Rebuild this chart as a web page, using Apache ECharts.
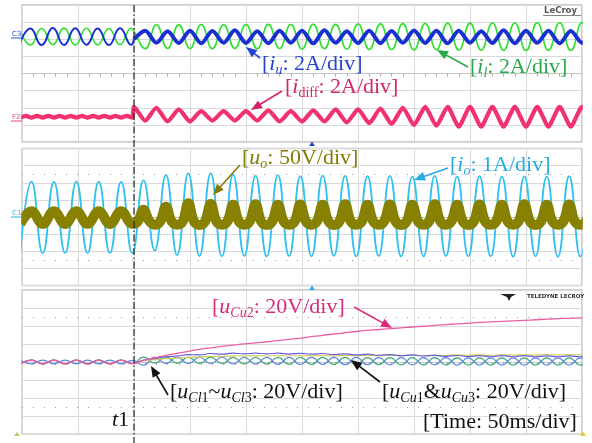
<!DOCTYPE html>
<html><head><meta charset="utf-8">
<script src="https://cdn.jsdelivr.net/npm/echarts@6/dist/echarts.min.js"></script>
<style>html,body{margin:0;padding:0;background:#fff}#c{width:592px;height:443px}</style>
</head><body><div id="c"></div>
<script>
// ---- data: time in ms (50 ms/div), t1 = 100 ms; amplitudes in screen divisions ----
const timeRange = [0, 500];
const t1 = 100;
const halfPeriod = 10; // ms between successive extremes (50 Hz)

// top panel: iu (blue), il (green), idiff (pink)
const iuPreStart = -2.5;
const iuPre = [1.68,2.63,1.66,2.65,1.67,2.64,1.68,2.63,1.66,2.64,1.68];
const iuPostStart = 100;
const iuPost = [2.0,
 2.5,1.8,2.46,1.78,2.5,1.76,2.48,1.8,2.52,1.78,
 2.47,1.77,2.5,1.8,2.49,1.76,2.52,1.79,2.47,1.78,
 2.5,1.77,2.48,1.8,2.51,1.78,2.49,1.76,2.5,1.8,
 2.47,1.78,2.52,1.77,2.49,1.79,2.5,1.76,2.48,1.8,
 2.5];
const ilPreStart = -2.5;
const ilPre = [2.64,1.67,2.63,1.68,2.65,1.66,2.64,1.67,2.63,1.68,2.64];
const ilPostStart = 100;
const ilPost = [2.45,
 1.45,2.85,1.47,2.84,1.46,2.86,1.45,2.85,1.47,2.86,
 1.44,2.87,1.46,2.86,1.43,2.88,1.45,2.87,1.42,2.89,
 1.41,2.9,1.4,2.91,1.38,2.92,1.39,2.93,1.37,2.94,
 1.36,2.95,1.35,2.95,1.34,2.96,1.35,2.96,1.34,2.97,
 1.34];
const idiffPreStart = -1.5, idiffPreStep = 5;
const idiffPre = [-2.58,-2.47,-2.58,-2.47,-2.58,-2.47,-2.58,-2.47,-2.58,-2.47,-2.58,
 -2.47,-2.58,-2.47,-2.58,-2.47,-2.58,-2.47,-2.58,-2.47,-2.58];
const idiffPostStart = 100;
const idiffPost = [-1.95,-2.75,-2.0,-2.8,-2.1,-2.8,-2.2,-2.75,-2.2,-2.75,
 -2.2,-2.75,-2.15,-2.8,-2.2,-2.8,-2.15,-2.8,-2.1,-2.85,
 -2.1,-2.9,-2.05,-2.95,-2.0,-3.0,-1.95,-3.05,-1.95,-3.1,
 -1.95,-3.1,-1.95,-3.1,-1.95,-3.1,-1.95,-3.1,-1.95,-3.1,
 -1.95,-3.1];

// middle panel: io (cyan), uo (olive)
const ioStart = -1.5;
const io = [-2.1,2.06,-2.12,2.05,-2.1,2.07,-2.11,2.06,-2.1,2.05,-2.12,
 2.14,-1.95,2.45,-2.22,2.55,-2.28,2.55,-2.3,2.47,-2.27,
 2.42,-2.3,2.45,-2.28,2.38,-2.3,2.42,-2.27,2.4,-2.3,
 2.38,-2.28,2.4,-2.3,2.36,-2.3,2.4,-2.28,2.36,-2.3,
 2.38,-2.3,2.36,-2.32,2.37,-2.3,2.36,-2.32,2.38,-2.3,
 2.36];
const uoPreStart = -1.5;
const uoPre = [-0.41,0.33,-0.4,0.34,-0.41,0.33,-0.4,0.33,-0.41,0.34,-0.4];
const uoPostStart = 103.5, uoPostStep = 5;
const uoPost = [
 -0.25,0.42,-0.22,-0.45, -0.25,0.6,-0.24,-0.45, -0.26,0.8,-0.25,-0.46, -0.25,0.76,-0.24,-0.45,
 -0.25,0.72,-0.24,-0.45, -0.24,0.74,-0.25,-0.46, -0.25,0.72,-0.24,-0.45, -0.25,0.73,-0.25,-0.45,
 -0.24,0.72,-0.24,-0.46, -0.25,0.74,-0.25,-0.45, -0.25,0.72,-0.24,-0.45, -0.24,0.73,-0.25,-0.46,
 -0.25,0.72,-0.24,-0.45, -0.25,0.74,-0.25,-0.45, -0.24,0.72,-0.24,-0.46, -0.25,0.73,-0.25,-0.45,
 -0.25,0.72,-0.24,-0.45, -0.24,0.74,-0.25,-0.46, -0.25,0.72,-0.24,-0.45, -0.25,0.73,-0.25,-0.45,
 -0.25,0.72];

// bottom panel: capacitor voltages
const capStart = -1.5;
const capPreA = [-0.1,0.11,-0.1,0.11,-0.1,0.11,-0.1,0.11,-0.1,0.11,-0.08];
const capPreB = [0.11,-0.1,0.11,-0.1,0.11,-0.1,0.11,-0.1,0.11,-0.1,0.1];
const uCu2Post = [0.1,0.23,0.38,0.49,0.6,0.71,0.79,0.87,0.94,1.01,
 1.07,1.13,1.19,1.26,1.33,1.41,1.49,1.56,1.63,1.7,
 1.76,1.81,1.86,1.9,1.95,1.99,2.04,2.08,2.12,2.16,
 2.2,2.23,2.26,2.29,2.32,2.35,2.38,2.41,2.43,2.45,
 2.47];
const uCu3Post = [0.08,0.14,0.2,0.22,0.27,0.28,0.32,0.31,0.35,0.33,
 0.36,0.34,0.37,0.34,0.37,0.35,0.37,0.35,0.38,0.36,
 0.38,0.36,0.38,0.36,0.39,0.37,0.39,0.37,0.4,0.38,
 0.4,0.38,0.41,0.39,0.41,0.39,0.42,0.4,0.42,0.4,
 0.42];
const uCu1Post = [0.12,0.2,0.3,0.34,0.42,0.4,0.48,0.44,0.5,0.46,
 0.5,0.46,0.5,0.45,0.49,0.44,0.48,0.42,0.46,0.4,
 0.44,0.38,0.42,0.36,0.4,0.34,0.38,0.32,0.37,0.31,
 0.36,0.3,0.36,0.3,0.36,0.3,0.35,0.3,0.35,0.3,
 0.35];
const uClAPost = [0.28,-0.06,0.29,-0.07,0.28,-0.08,0.28,-0.09,0.27,-0.1,
 0.27,-0.11,0.27,-0.12,0.26,-0.13,0.26,-0.13,0.26,-0.14,
 0.25,-0.14,0.25,-0.15,0.25,-0.15,0.25,-0.15,0.24,-0.16,
 0.24,-0.16,0.24,-0.16,0.24,-0.16,0.24,-0.16,0.24,-0.16,
 0.24];
const uClBPost = [-0.17,0.28,-0.08,0.29,-0.08,0.28,-0.09,0.28,-0.1,0.27,
 -0.11,0.27,-0.12,0.27,-0.13,0.26,-0.13,0.26,-0.14,0.26,
 -0.14,0.25,-0.15,0.25,-0.15,0.25,-0.15,0.25,-0.16,0.24,
 -0.16,0.24,-0.16,0.24,-0.16,0.24,-0.16,0.24,-0.16,0.24,
 -0.16];

// ---- build ----
function seg(start, step, vals){ return vals.map((v,i)=>[start+i*step, v]); }
const iuPreData = seg(iuPreStart, halfPeriod, iuPre).concat([[iuPostStart, iuPost[0]]]);
const iuPostData = seg(iuPostStart, halfPeriod, iuPost);
const ilData = seg(ilPreStart, halfPeriod, ilPre).concat(seg(ilPostStart, halfPeriod, ilPost));
const idiffData = seg(idiffPreStart, idiffPreStep, idiffPre).concat(seg(idiffPostStart, halfPeriod, idiffPost));
const ioData = seg(ioStart, halfPeriod, io);
const uoData = seg(uoPreStart, halfPeriod, uoPre).concat(seg(uoPostStart, uoPostStep, uoPost));
const capData = post => seg(capStart, halfPeriod, capPreA.concat(post));
const capDataB = post => seg(capStart, halfPeriod, capPreB.concat(post));

const chart = echarts.init(document.getElementById('c'), null, {renderer:'canvas'});
const gridDefs = [
  {left:22, top:5, width:560, height:137},
  {left:22, top:148.5, width:560, height:137},
  {left:22, top:290, width:560, height:144.3}
];
const grid = gridDefs.map(g => Object.assign({show:true, borderColor:'#bdbdbd', borderWidth:1.5, backgroundColor:'transparent'}, g));
const xAxis = gridDefs.map((g,i)=>({
  gridIndex:i, type:'value', min:timeRange[0], max:timeRange[1], interval:50,
  axisLabel:{show:false}, axisTick:{show:false},
  axisLine:{show:true, onZero:true, lineStyle:{color:'#c4c4c4', width:1}},
  minorTick:{show:true, splitNumber:5, length:3, lineStyle:{color:'#aaaaaa'}},
  splitLine:{show:true, lineStyle:{color:'#d9d9d9', width:1}}
}));
const yAxis = gridDefs.map((g,i)=>({
  gridIndex:i, type:'value', min:-4, max:4, interval:1,
  axisLabel:{show:false}, axisTick:{show:false}, axisLine:{show:false},
  splitLine:{show:true, lineStyle:{color:'#d9d9d9', width:1}}
}));
const dotted = {silent:true, symbol:'none', animation:false, label:{show:false},
  lineStyle:{type:[1,10], color:'#9a9a9a', width:1}, data:[{yAxis:2.5},{yAxis:-2.5}]};
function line(gi, data, color, width, smooth, extra){
  return Object.assign({type:'line', xAxisIndex:gi, yAxisIndex:gi, data, showSymbol:false, symbol:'none', clip:true,
    smooth, silent:true, animation:false, lineStyle:{color, width}, itemStyle:{color}}, extra||{});
}
const series = [
  line(0, ilData, '#2fe02f', 1.6, 0.5),
  line(0, iuPreData, '#1a2fd2', 2, 0.5),
  line(0, iuPostData, '#1a2fd2', 4, 0.3),
  line(0, idiffData, '#f2326e', 4.2, 0.2),
  line(1, ioData, '#2fbff0', 1.8, 0.5, {markLine:dotted}),
  line(1, uoData, '#878000', 10, 0.4),
  line(2, capData(uClAPost), '#3aa57a', 1.2, 0.5, {markLine:dotted}),
  line(2, capDataB(uClBPost), '#5b86e5', 1.2, 0.5),
  line(2, capData(uCu3Post), '#cfcf5a', 1.2, 0.5),
  line(2, capData(uCu1Post), '#6a5ce0', 1.2, 0.5),
  line(2, capData(uCu2Post), '#ea5fa2', 1.3, 0.5)
];
chart.setOption({animation:false, grid, xAxis, yAxis, series});

// ---- annotations ----
const F = 'Liberation Serif';
function rich(color){
  return {
    n:{fontFamily:F, fontSize:22, fill:color, color, lineHeight:26},
    i:{fontFamily:F, fontSize:22, fontStyle:'italic', fill:color, color, lineHeight:26},
    s:{fontFamily:F, fontSize:14, fontStyle:'italic', fill:color, color, lineHeight:14, verticalAlign:'bottom'},
    sn:{fontFamily:F, fontSize:14, fill:color, color, lineHeight:14, verticalAlign:'bottom'}
  };
}
function label(x, y, text, color){
  return {type:'text', x, y, z:50, style:{text, rich:rich(color), fill:color, align:'left', verticalAlign:'middle'}};
}
function arrow(x1,y1,x2,y2,color){
  const dx=x2-x1, dy=y2-y1, L=Math.hypot(dx,dy), ux=dx/L, uy=dy/L;
  const hl=11, hw=4.5, bx=x2-ux*hl, by=y2-uy*hl;
  return [
    {type:'line', z:50, shape:{x1, y1, x2:bx+ux*2, y2:by+uy*2}, style:{stroke:color, lineWidth:1.6}},
    {type:'polygon', z:50, shape:{points:[[x2,y2],[bx-uy*hw,by+ux*hw],[bx+uy*hw,by-ux*hw]]}, style:{fill:color}}
  ];
}
const tx = chart.convertToPixel({gridIndex:0}, [t1, 0])[0];
const cBlue='#2443d4', cGreen='#2aa84a', cCrim='#d2246a', cOlive='#857a00', cCyan='#27a9e1', cPink='#d82b7e', cBlack='#111';
const g = [
  // white masks outside the plot frames (thick lines overflow the clip slightly)
  {type:'rect', z:10, shape:{x:582.8, y:0, width:10, height:443}, style:{fill:'#fff'}},
  {type:'rect', z:10, shape:{x:0, y:0, width:21.2, height:443}, style:{fill:'#fff'}},
  {type:'line', z:60, shape:{x1:tx, y1:5, x2:tx, y2:443}, style:{stroke:'#222', lineWidth:1.2, lineDash:[7,2.5,1.5,2.5]}},
  label(262, 64, '{n|[}{i|i}{s|u}{n|: 2A/div]}', cBlue),
  ...arrow(260, 58, 246, 47, cBlue),
  label(470, 67, '{n|[}{i|i}{s|l}{n|: 2A/div]}', cGreen),
  ...arrow(468, 67, 437, 50, cGreen),
  label(285, 87, '{n|[}{i|i}{sn|diff}{n|: 2A/div]}', cCrim),
  ...arrow(282, 91, 251, 110, cCrim),
  label(242, 158.5, '{n|[}{i|u}{s|o}{n|: 50V/div]}', cOlive),
  ...arrow(240, 165, 213, 195, cOlive),
  label(450, 165, '{n|[}{i|i}{s|o}{n|: 1A/div]}', cCyan),
  ...arrow(448, 168, 414, 180, cCyan),
  label(212, 307, '{n|[}{i|u}{s|Cu}{sn|2}{n|: 20V/div]}', cPink),
  ...arrow(354, 307, 392, 328, cPink),
  label(170, 392, '{n|[}{i|u}{s|Cl}{sn|1}{n|~}{i|u}{s|Cl}{sn|3}{n|: 20V/div]}', cBlack),
  ...arrow(168, 395, 151, 366, cBlack),
  label(382, 392, '{n|[}{i|u}{s|Cu}{sn|1}{n|&}{i|u}{s|Cu}{sn|3}{n|: 20V/div]}', cBlack),
  ...arrow(380, 382, 351, 360, cBlack),
  label(423, 422, '{n|[Time: 50ms/div]}', cBlack),
  label(112, 420.5, '{i|t}{n|1}', cBlack),
  // scope decorations
  {type:'text', z:20, x:544, y:10.5, style:{text:'LeCroy', fontFamily:'DejaVu Sans', fontSize:8.5, fontWeight:'bold', fill:'#555', align:'left', verticalAlign:'middle'}},
  {type:'line', z:20, shape:{x1:543, y1:15.5, x2:581, y2:15.5}, style:{stroke:'#666', lineWidth:0.8}},
  {type:'polygon', z:20, shape:{points:[[500,294],[516,294],[511,297],[509,301],[507,297]]}, style:{fill:'#222'}},
  {type:'text', z:20, x:527, y:296.5, style:{text:'TELEDYNE LECROY', fontFamily:'DejaVu Sans', fontSize:5.5, fontWeight:'bold', fill:'#333', align:'left', verticalAlign:'middle'}},
  {type:'text', z:20, x:12, y:34, style:{text:'C3', fontFamily:'DejaVu Sans', fontSize:7, fill:'#3050d0', align:'left', verticalAlign:'middle'}},
  {type:'line', z:20, shape:{x1:11, y1:38, x2:22, y2:38}, style:{stroke:'#3050d0', lineWidth:1}},
  {type:'text', z:20, x:12, y:117, style:{text:'F2', fontFamily:'DejaVu Sans', fontSize:7, fill:'#f04080', align:'left', verticalAlign:'middle'}},
  {type:'line', z:20, shape:{x1:11, y1:121, x2:22, y2:121}, style:{stroke:'#f04080', lineWidth:1}},
  {type:'text', z:20, x:12, y:213, style:{text:'C1', fontFamily:'DejaVu Sans', fontSize:7, fill:'#30b0e0', align:'left', verticalAlign:'middle'}},
  {type:'line', z:20, shape:{x1:11, y1:217, x2:22, y2:217}, style:{stroke:'#30b0e0', lineWidth:1}},
  {type:'polygon', z:20, shape:{points:[[312,141.5],[309,146],[315,146]]}, style:{fill:'#2443d4'}},
  {type:'polygon', z:20, shape:{points:[[312,285.5],[309,290],[315,290]]}, style:{fill:'#27b5ea'}},
  {type:'polygon', z:20, shape:{points:[[17,432],[14,436],[20,436]]}, style:{fill:'#b8d060'}},
  {type:'polygon', z:20, shape:{points:[[583,431],[580,436],[586,436]]}, style:{fill:'#e0d040'}}
];
chart.setOption({graphic:{elements:g}});
</script></body></html>
